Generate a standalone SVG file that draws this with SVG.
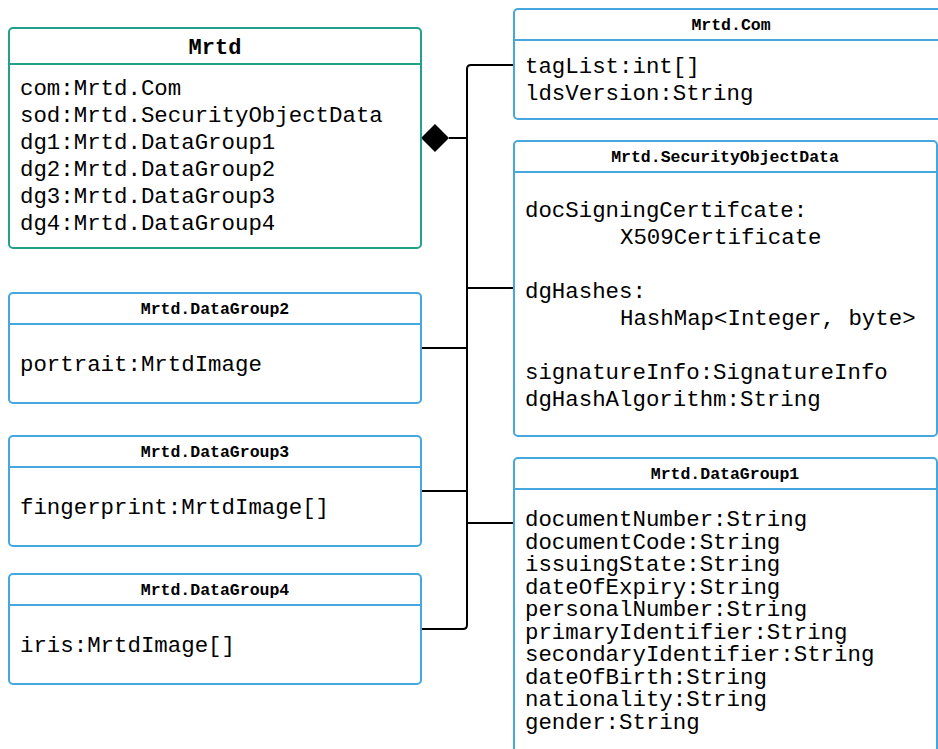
<svg xmlns="http://www.w3.org/2000/svg" width="938" height="749" viewBox="0 0 938 749">
<style>
.box{fill:#ffffff;stroke-width:2}
.teal{stroke:#23a089}
.blue{stroke:#45a7de}
.div{stroke-width:2}
.ttl{font-family:"Liberation Mono",monospace;font-weight:bold;font-size:16.5px;fill:#000;text-anchor:middle}
.big{font-size:22px}
.txt{font-family:"Liberation Mono",monospace;font-size:22.4px;fill:#000}
.conn{fill:none;stroke:#000;stroke-width:2}
</style>
<rect width="938" height="749" fill="#ffffff"/>
<g id="connectors">
<path class="conn" d="M449,138 H467"/>
<path class="conn" d="M514,65 H471 Q467,65 467,69 V625 Q467,629 463,629 H421"/>
<path class="conn" d="M467,288 H514"/>
<path class="conn" d="M467,348 H421"/>
<path class="conn" d="M467,491 H421"/>
<path class="conn" d="M467,523 H514"/>
<polygon points="421,138 435,124 449,138 435,152" fill="#000"/>
</g>
<g id="Mrtd">
<rect class="box teal" x="9" y="28" width="412" height="220" rx="4"/>
<line class="div teal" x1="9" y1="64" x2="421" y2="64"/>
<text class="ttl big" x="215" y="54">Mrtd</text>
<text class="txt" x="20" y="95">com:Mrtd.Com</text>
<text class="txt" x="20" y="122">sod:Mrtd.SecurityObjectData</text>
<text class="txt" x="20" y="149">dg1:Mrtd.DataGroup1</text>
<text class="txt" x="20" y="176">dg2:Mrtd.DataGroup2</text>
<text class="txt" x="20" y="203">dg3:Mrtd.DataGroup3</text>
<text class="txt" x="20" y="230">dg4:Mrtd.DataGroup4</text>
</g>
<g id="MrtdCom">
<rect class="box blue" x="514" y="9" width="430" height="110" rx="4"/>
<line class="div blue" x1="514" y1="40" x2="938" y2="40"/>
<text class="ttl" x="731" y="30">Mrtd.Com</text>
<text class="txt" x="525" y="73">tagList:int[]</text>
<text class="txt" x="525" y="100">ldsVersion:String</text>
</g>
<g id="SecurityObjectData">
<rect class="box blue" x="514" y="141" width="423" height="295" rx="4"/>
<line class="div blue" x1="514" y1="172" x2="937" y2="172"/>
<text class="ttl" x="725" y="162">Mrtd.SecurityObjectData</text>
<text class="txt" x="525" y="217">docSigningCertifcate:</text>
<text class="txt" x="620" y="244">X509Certificate</text>
<text class="txt" x="525" y="298">dgHashes:</text>
<text class="txt" x="620" y="325">HashMap&lt;Integer, byte&gt;</text>
<text class="txt" x="525" y="379">signatureInfo:SignatureInfo</text>
<text class="txt" x="525" y="406">dgHashAlgorithm:String</text>
</g>
<g id="DataGroup1">
<rect class="box blue" x="514" y="458" width="423" height="310" rx="4"/>
<line class="div blue" x1="514" y1="489" x2="937" y2="489"/>
<text class="ttl" x="725" y="479">Mrtd.DataGroup1</text>
<text class="txt" x="525" y="526">documentNumber:String</text>
<text class="txt" x="525" y="548.5">documentCode:String</text>
<text class="txt" x="525" y="571">issuingState:String</text>
<text class="txt" x="525" y="593.5">dateOfExpiry:String</text>
<text class="txt" x="525" y="616">personalNumber:String</text>
<text class="txt" x="525" y="638.5">primaryIdentifier:String</text>
<text class="txt" x="525" y="661">secondaryIdentifier:String</text>
<text class="txt" x="525" y="683.5">dateOfBirth:String</text>
<text class="txt" x="525" y="706">nationality:String</text>
<text class="txt" x="525" y="728.5">gender:String</text>
</g>
<g id="DataGroup2">
<rect class="box blue" x="9" y="293" width="412" height="110" rx="4"/>
<line class="div blue" x1="9" y1="324" x2="421" y2="324"/>
<text class="ttl" x="215" y="314">Mrtd.DataGroup2</text>
<text class="txt" x="20" y="371">portrait:MrtdImage</text>
</g>
<g id="DataGroup3">
<rect class="box blue" x="9" y="436" width="412" height="110" rx="4"/>
<line class="div blue" x1="9" y1="467" x2="421" y2="467"/>
<text class="ttl" x="215" y="457">Mrtd.DataGroup3</text>
<text class="txt" x="20" y="514">fingerprint:MrtdImage[]</text>
</g>
<g id="DataGroup4">
<rect class="box blue" x="9" y="574" width="412" height="110" rx="4"/>
<line class="div blue" x1="9" y1="605" x2="421" y2="605"/>
<text class="ttl" x="215" y="595">Mrtd.DataGroup4</text>
<text class="txt" x="20" y="652">iris:MrtdImage[]</text>
</g>
</svg>
